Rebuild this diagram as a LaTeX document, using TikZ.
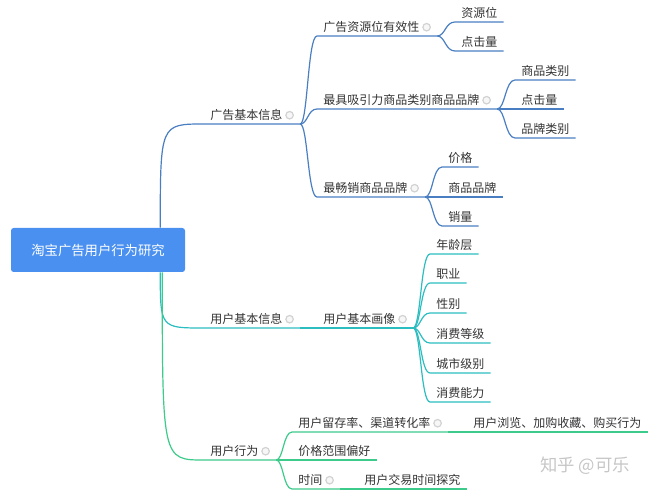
\documentclass[tikz,border=0pt]{standalone}
\usepackage{fontspec}
\setmainfont{Noto Sans CJK SC}
\usetikzlibrary{positioning,calc}

\definecolor{rootblue}{HTML}{4A90F0}
\definecolor{adblue}{HTML}{4A7EC2}
\definecolor{userteal}{HTML}{2BBDC0}
\definecolor{actgreen}{HTML}{3CCB8A}

\newcommand\foldmark{\hspace{2.25pt}\tikz[baseline=-3.4pt]\draw[gray!35, fill=gray!6, line width=0.9pt] (0,0) circle (2.8pt);}

\begin{document}
\begin{tikzpicture}[x=0.75pt, y=-0.75pt, font=\fontsize{9}{11}\selectfont, text=black!80,
    root/.style={fill=rootblue, text=white, rounded corners=2pt, minimum width=130.5pt, minimum height=33pt, font=\fontsize{10}{12}\selectfont},
    topic/.style={anchor=south west, inner xsep=4.5pt, inner ysep=1.5pt, text height=7pt, text depth=1.5pt},
    elbow/.style={to path={.. controls (\tikztostart |- \tikztotarget) .. (\tikztotarget) \tikztonodes}},
    sbend/.style={to path={.. controls ($(\tikztostart)!0.45!(\tikztostart -| \tikztotarget)$)
        and ($(\tikztotarget)!0.55!(\tikztostart |- \tikztotarget)$) .. (\tikztotarget) \tikztonodes}},
    adline/.style={draw=adblue, line width=0.9pt},
    userline/.style={draw=userteal, line width=0.9pt},
    actline/.style={draw=actgreen, line width=0.9pt}]
\useasboundingbox (0,0) rectangle (653,495);

\node[root] (root) at (98,250) {淘宝广告用户行为研究};

% 广告基本信息
\node[topic] (ad) at (204,124) {广告基本信息\foldmark};
\node[topic] (eff) at (317,36) {广告资源位有效性\foldmark};
\node[topic] (slot) at (455,22) {资源位};
\node[topic] (click) at (455,51) {点击量};
\node[topic] (attr) at (317,109) {最具吸引力商品类别商品品牌\foldmark};
\node[topic] (cate) at (515,80) {商品类别};
\node[topic] (click2) at (515,109) {点击量};
\node[topic] (bcate) at (515,138) {品牌类别};
\node[topic] (best) at (317,197) {最畅销商品品牌\foldmark};
\node[topic] (price) at (442,167) {价格};
\node[topic] (brand) at (442,197) {商品品牌};
\node[topic] (sales) at (442,226) {销量};

\draw[adline] ([xshift=-18.75pt]root.north east) to[elbow] (ad.south west) -- (ad.south east);
\draw[adline] (ad.south east) to[sbend] (eff.south west) -- (eff.south east);
\draw[adline] (ad.south east) to[sbend] (attr.south west) -- (attr.south east);
\draw[adline] (ad.south east) to[sbend] (best.south west) -- (best.south east);
\draw[adline] (eff.south east) to[sbend] (slot.south west) -- (slot.south east);
\draw[adline] (eff.south east) to[sbend] (click.south west) -- (click.south east);
\draw[adline] (attr.south east) to[sbend] (cate.south west) -- (cate.south east);
\draw[adline] (attr.south east) -- (click2.south west) -- (click2.south east);
\draw[adline] (attr.south east) to[sbend] (bcate.south west) -- (bcate.south east);
\draw[adline] (best.south east) to[sbend] (price.south west) -- (price.south east);
\draw[adline] (best.south east) -- (brand.south west) -- (brand.south east);
\draw[adline] (best.south east) to[sbend] (sales.south west) -- (sales.south east);

% 用户基本信息
\node[topic] (ub) at (204,328) {用户基本信息\foldmark};
\node[topic] (pic) at (317,328) {用户基本画像\foldmark};
\node[topic] (age) at (430,254) {年龄层};
\node[topic] (job) at (430,283) {职业};
\node[topic] (sex) at (430,313) {性别};
\node[topic] (lvl) at (430,343) {消费等级};
\node[topic] (city) at (430,373) {城市级别};
\node[topic] (pow) at (430,402) {消费能力};

\draw[userline] ([xshift=-18.75pt]root.south east) to[elbow] (ub.south west) -- (ub.south east);
\draw[userline] (ub.south east) -- (pic.south west) -- (pic.south east);
\draw[userline] (pic.south east) to[sbend] (age.south west) -- (age.south east);
\draw[userline] (pic.south east) to[sbend] (job.south west) -- (job.south east);
\draw[userline] (pic.south east) to[sbend] (sex.south west) -- (sex.south east);
\draw[userline] (pic.south east) to[sbend] (lvl.south west) -- (lvl.south east);
\draw[userline] (pic.south east) to[sbend] (city.south west) -- (city.south east);
\draw[userline] (pic.south east) to[sbend] (pow.south west) -- (pow.south east);

% 用户行为
\node[topic] (act) at (204,460) {用户行为\foldmark};
\node[topic] (ret) at (292,432) {用户留存率、渠道转化率\foldmark};
\node[topic] (view) at (467,432) {用户浏览、加购收藏、购买行为};
\node[topic] (pref) at (292,460) {价格范围偏好};
\node[topic] (time) at (292,489) {时间\foldmark};
\node[topic] (trade) at (358,489) {用户交易时间探究};

\draw[actline] ([xshift=-17.25pt]root.south east) to[elbow] (act.south west) -- (act.south east);
\draw[actline] (act.south east) to[sbend] (ret.south west) -- (ret.south east);
\draw[actline] (act.south east) -- (pref.south west) -- (pref.south east);
\draw[actline] (act.south east) to[sbend] (time.south west) -- (time.south east);
\draw[actline] (ret.south east) -- (view.south west) -- (view.south east);
\draw[actline] (time.south east) -- (trade.south west) -- (trade.south east);

\node[text=gray!45, font=\fontsize{13}{15}\selectfont] (mark) at (585,466) {知乎 @可乐};
\end{tikzpicture}
\end{document}
